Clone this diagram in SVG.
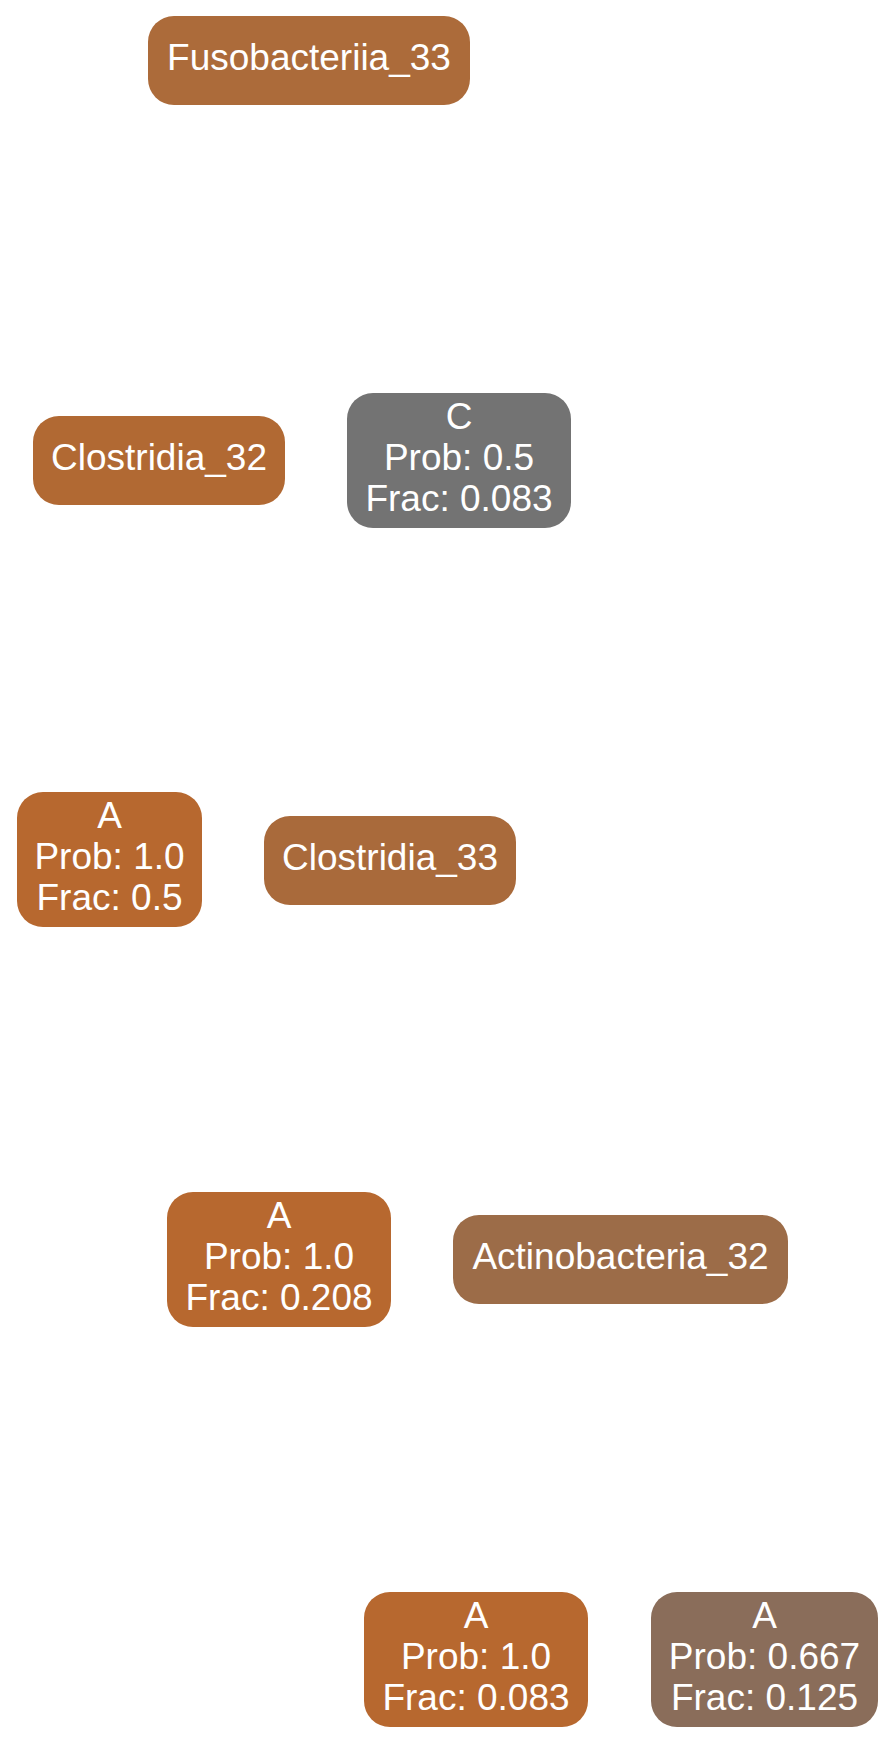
<svg xmlns="http://www.w3.org/2000/svg" width="896" height="1746" viewBox="0 0 896 1746">
<style>
.n rect{stroke:none}
.n text{font-family:"Liberation Sans",Arial,Helvetica,sans-serif;font-size:37px;fill:#ffffff;text-anchor:middle}
</style>
<rect x="0" y="0" width="896" height="1746" fill="#ffffff"/>
<g id="connectors"></g>
<g id="n_fuso33" class="n"><rect x="148" y="16" width="322" height="89" rx="26" fill="#AC6B3A"/><text x="309" y="70">Fusobacteriia_33</text></g>
<g id="n_clos32" class="n"><rect x="33" y="416" width="252" height="89" rx="26" fill="#B16933"/><text x="159" y="470">Clostridia_32</text></g>
<g id="n_c" class="n"><rect x="347" y="393" width="224" height="135" rx="26" fill="#737373"/><text x="459" y="429">C</text><text x="459" y="470">Prob: 0.5</text><text x="459" y="511">Frac: 0.083</text></g>
<g id="n_a05" class="n"><rect x="17" y="792" width="185" height="135" rx="26" fill="#B7682F"/><text x="109.5" y="828">A</text><text x="109.5" y="869">Prob: 1.0</text><text x="109.5" y="910">Frac: 0.5</text></g>
<g id="n_clos33" class="n"><rect x="264" y="816" width="252" height="89" rx="26" fill="#A96A3B"/><text x="390" y="870">Clostridia_33</text></g>
<g id="n_a0208" class="n"><rect x="167" y="1192" width="224" height="135" rx="26" fill="#B7682F"/><text x="279" y="1228">A</text><text x="279" y="1269">Prob: 1.0</text><text x="279" y="1310">Frac: 0.208</text></g>
<g id="n_actino32" class="n"><rect x="453" y="1215" width="335" height="89" rx="26" fill="#9C6C48"/><text x="620.5" y="1269">Actinobacteria_32</text></g>
<g id="n_a0083" class="n"><rect x="364" y="1592" width="224" height="135" rx="26" fill="#B7682F"/><text x="476" y="1628">A</text><text x="476" y="1669">Prob: 1.0</text><text x="476" y="1710">Frac: 0.083</text></g>
<g id="n_a0125" class="n"><rect x="651" y="1592" width="227" height="135" rx="26" fill="#8A6D5A"/><text x="764.5" y="1628">A</text><text x="764.5" y="1669">Prob: 0.667</text><text x="764.5" y="1710">Frac: 0.125</text></g>
</svg>
